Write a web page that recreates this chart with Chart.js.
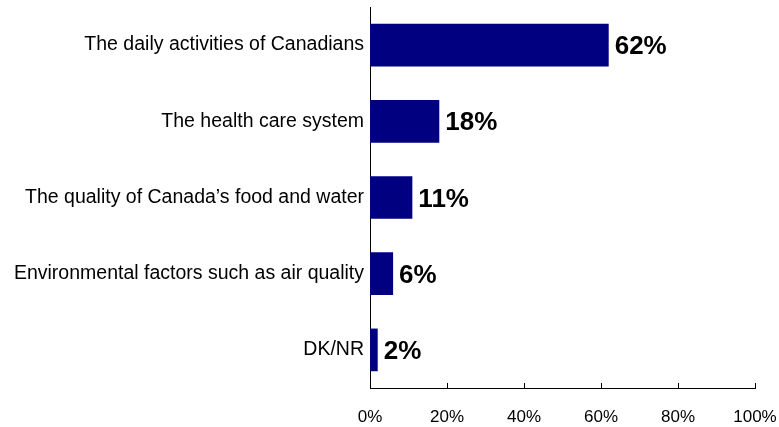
<!DOCTYPE html>
<html>
<head>
<meta charset="utf-8">
<script src="https://cdn.jsdelivr.net/npm/chart.js@4.4.1/dist/chart.umd.min.js"></script>
<style>
  html, body { margin: 0; padding: 0; background: #fff; }
  #wrap { width: 779px; height: 427px; }
</style>
</head>
<body>
<div id="wrap"><canvas id="myChart"></canvas></div>
<script>
// ------------------   DATA   ----------------
const categories = [
  'The daily activities of Canadians',
  'The health care system',
  'The quality of Canada\u2019s food and water',
  'Environmental factors such as air quality',
  'DK/NR',
];
const shares = [62, 18, 11, 6, 2];
const xTicks = [0, 20, 40, 60, 80, 100];

// ------------   PLUGINS   ----------------------

// value labels to the right of each bar
const valueLabels = {
  id: 'valueLabels',
  afterDatasetsDraw(chart) {
    const ctx = chart.ctx;
    const meta = chart.getDatasetMeta(0);
    ctx.save();
    ctx.font = 'bold 26px "Liberation Sans", Arial, sans-serif';
    ctx.fillStyle = '#000';
    ctx.textBaseline = 'middle';
    meta.data.forEach((bar, i) => {
      ctx.fillText(shares[i] + '%', bar.x + 6, bar.y + 2);
    });
    ctx.restore();
  },
};

// small tick marks pointing up from the x axis
const innerTicks = {
  id: 'innerTicks',
  afterDraw(chart) {
    const ctx = chart.ctx;
    const x = chart.scales.x;
    const bottom = chart.chartArea.bottom;
    ctx.save();
    ctx.strokeStyle = '#000';
    ctx.lineWidth = 1;
    for (let v of xTicks) {
      const px = Math.round(x.getPixelForValue(v)) + 0.5;
      ctx.beginPath();
      ctx.moveTo(px, bottom);
      ctx.lineTo(px, bottom - 5);
      ctx.stroke();
    }
    ctx.restore();
  },
};

// ------------   CHART   ----------------------
const ctx = document.getElementById('myChart').getContext('2d');
const myChart = new Chart(ctx, {
  type: 'bar',
  data: {
    labels: categories,
    datasets: [
      {
        data: shares,
        backgroundColor: '#000080',
        borderWidth: 0,
        barPercentage: 0.56,
        categoryPercentage: 1,
      },
    ],
  },
  options: {
    indexAxis: 'y',
    responsive: true,
    maintainAspectRatio: false,
    animation: false,
    layout: { padding: { top: 7, right: 24, left: 0, bottom: 0 } },
    plugins: {
      legend: { display: false },
      tooltip: { enabled: false },
    },
    scales: {
      x: {
        min: 0,
        max: 100,
        afterBuildTicks: (scale) => {
          scale.ticks = xTicks.map((v) => ({ value: v }));
        },
        afterFit: (scale) => {
          scale.height = 39;
          scale.paddingLeft = 0;
          scale.paddingRight = 0;
        },
        grid: { display: false, drawTicks: false },
        border: { display: true, color: '#000', width: 1 },
        ticks: {
          padding: 19,
          color: '#000',
          maxRotation: 0,
          font: { family: '"Liberation Sans", Arial, sans-serif', size: 17 },
          callback: (v) => v + '%',
        },
      },
      y: {
        afterFit: (scale) => {
          scale.width = 370;
          scale.paddingTop = 0;
          scale.paddingBottom = 0;
        },
        grid: { display: false, drawTicks: false },
        border: { display: true, color: '#000', width: 1 },
        ticks: {
          padding: 6,
          color: '#000',
          font: { family: '"Liberation Sans", Arial, sans-serif', size: 19.5 },
        },
      },
    },
  },
  plugins: [valueLabels, innerTicks],
});
</script>
</body>
</html>
